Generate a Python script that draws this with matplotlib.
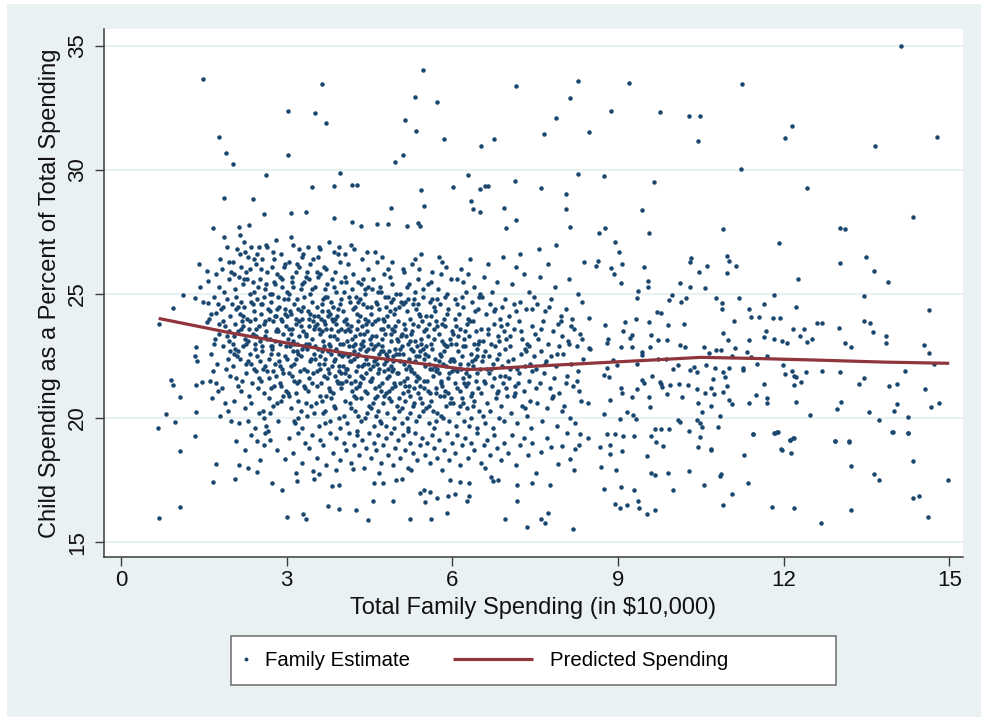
import matplotlib
matplotlib.use('Agg')
import matplotlib.pyplot as plt
from matplotlib.patches import Rectangle
from matplotlib.lines import Line2D
from matplotlib.legend_handler import HandlerLine2D

plt.rcParams['font.family'] = ['Liberation Sans', 'DejaVu Sans']

# ---------------- data ----------------
x_ticks = [0, 3, 6, 9, 12, 15]
y_ticks = [15, 20, 25, 30, 35]
x_label = "Total Family Spending (in $10,000)"
y_label = "Child Spending as a Percent of Total Spending"
legend_labels = ["Family Estimate", "Predicted Spending"]

pred_x = [0.68, 2.0, 3.2, 4.4, 5.6, 6.25, 6.6, 7.2, 7.8, 8.4, 9.6, 10.5, 11.4, 12.6, 13.8, 15.0]
pred_y = [24.02, 23.43, 22.95, 22.49, 22.15, 21.96, 21.98, 22.06, 22.13, 22.2, 22.34, 22.45, 22.41, 22.34, 22.26, 22.21]

fam_top = [(1.48,33.68),(1.78,31.32),(1.90,30.71),(2.03,30.24),(3.03,32.37),(3.03,30.60),(3.63,33.48),(3.52,32.30),(3.71,31.90),(5.47,34.02),(5.32,32.96),(5.73,32.73),(5.14,32.02),(5.34,31.56),(5.84,31.26),(5.10,30.59),(4.96,30.32),(7.16,33.39),(6.51,30.99),(6.76,31.26),(2.63,29.79),(3.97,29.90),(6.29,29.79),(7.14,29.57),(1.87,28.88),(2.39,28.85),(3.45,29.33),(3.86,29.37),(4.19,29.40),(4.28,29.38),(5.43,29.18),(6.01,29.30),(6.50,29.22),(6.59,29.34),(6.64,29.37),(6.33,28.77),(6.38,28.43),(6.50,28.32),(6.94,28.46),(7.15,28.00),(4.88,28.48),(5.49,28.55),(2.58,28.24),(3.08,28.28),(3.35,28.32),(3.85,28.05),(4.19,27.90),(4.34,27.73),(4.64,27.81),(4.84,27.82),(5.17,27.73),(5.37,27.88),(5.41,27.76),(1.66,27.66),(2.13,27.69),(2.32,27.78),(6.97,27.66),
           (14.12,35.01),(8.27,33.61),(9.20,33.51),(11.25,33.48),(8.14,32.92),(7.87,32.12),(7.66,31.45),(8.48,31.53),(8.88,32.37),(9.76,32.35),(10.28,32.19),(10.49,32.20),(10.45,31.18),(12.03,31.30),(12.15,31.79),(13.66,30.97),(14.78,31.33),(8.27,29.86),(8.74,29.77),(11.23,30.03),(7.61,29.27),(8.06,29.03),(8.06,28.45),(9.66,29.52),(9.43,28.41),(12.42,29.27),(14.34,28.09),(8.14,27.72),(8.77,27.66),(10.91,27.63),(13.03,27.67),(13.12,27.62)]

fam_bottom = [(0.68,15.98),(1.07,16.41),(1.07,18.68),(1.33,19.27),(1.67,17.43),(1.72,18.16),(2.07,17.53),(2.08,19.06),(2.14,18.09),(2.25,18.71),(2.29,18.00),(2.46,19.06),(2.46,17.81),(2.52,18.32),(2.59,18.90),(2.69,19.10),(2.73,17.39),(2.92,17.11),(3.00,16.02),(3.30,16.12),(3.34,15.92),(2.97,18.36),(3.18,17.46),(3.16,17.77),(3.75,16.46),(3.94,16.35),(3.82,17.27),(3.95,17.30),(4.25,16.28),(4.47,15.91),(4.58,17.37),(4.74,17.37),(4.57,16.67),(4.92,16.65),(5.24,15.92),(5.61,15.93),(5.51,16.60),(5.42,16.99),(5.49,17.10),(5.60,17.04),(5.72,16.79),(5.91,16.18),(5.92,16.85),(6.05,16.96),(6.26,16.65),(6.31,16.84),(6.95,15.94),(7.17,16.67),(7.36,15.62),(7.17,17.29),(5.95,17.50),(6.14,17.42),(6.30,17.38),(6.70,17.63),(6.73,17.47),(6.82,17.50),(4.98,17.49),(5.08,17.55),(3.58,17.75),(3.48,17.85),(3.49,17.55),(7.45,17.37),
              (8.19,15.52),(7.60,15.94),(7.68,15.79),(7.74,16.18),(7.77,17.29),(7.51,17.80),(8.20,17.92),(8.74,17.15),(8.94,16.53),(9.03,16.39),(9.17,16.48),(9.05,17.24),(9.29,17.12),(9.37,16.65),(9.39,16.38),(9.53,16.13),(9.67,16.31),(9.99,17.10),(9.60,17.80),(9.67,17.69),(9.90,17.80),(10.28,17.85),(10.56,17.29),(10.84,17.66),(10.86,17.74),(11.06,16.95),(10.90,16.48),(11.36,17.37),(11.79,16.41),(12.19,16.37),(12.67,15.76),(13.22,18.06),(13.23,16.31),(13.64,17.74),(13.72,17.50),(14.35,18.28),(14.35,16.77),(14.46,16.85),(14.62,16.01),(14.98,17.50),(12.93,19.07),(13.19,19.04),(13.99,19.45),(14.25,19.42),(11.29,18.50),(11.45,19.35),(11.84,19.40),(11.88,19.44),(11.97,18.71),(12.14,18.58),(12.12,19.12),(12.19,19.21),(10.45,18.82),(10.49,19.25),(10.68,18.73),(10.28,19.48),(9.53,18.47),(9.82,18.87),(9.68,19.04),(9.60,19.27),(9.29,19.27),(9.10,19.27),(9.07,18.68),(8.86,18.91),(8.85,18.55),(8.68,18.82),(8.70,18.02),(8.96,17.90),(8.80,19.35),(8.94,19.35),(8.22,18.75),(8.30,18.91),(8.45,19.18),(8.13,18.37),(7.92,18.17),(7.99,18.88),(7.79,18.82),(7.61,18.62),(7.71,19.18),(8.07,19.38),(8.32,19.35)]

fam_lowband = [(3.05,19.2),(3.12,18.6),(3.21,19.4),(3.27,18.2),(3.33,19.0),(3.41,18.8),(3.46,19.3),(3.55,18.4),(3.61,19.1),(3.66,18.9),(3.72,18.1),(3.78,19.4),(3.84,18.6),(3.89,19.2),(3.97,18.3),(4.03,19.0),(4.07,18.7),(4.12,19.4),(4.16,18.2),(4.22,18.9),(4.27,19.3),(4.31,18.5),(4.36,19.1),(4.40,18.0),(4.44,18.8),(4.49,19.4),(4.53,18.4),(4.58,19.0),(4.62,18.7),(4.66,19.3),(4.71,18.2),(4.75,18.9),(4.80,19.2),(4.84,18.5),(4.89,19.4),(4.93,18.1),(4.97,18.8),(5.02,19.1),(5.06,18.4),(5.11,19.3),(5.15,18.7),(5.19,18.0),(5.23,19.0),(5.28,18.6),(5.32,19.4),(5.36,18.3),(5.41,18.9),(5.45,19.2),(5.50,18.5),(5.54,19.0),(5.59,18.2),(5.63,19.3),(5.67,18.8),(5.72,18.4),(5.76,19.1),(5.81,17.9),(5.85,18.7),(5.90,19.4),(5.94,18.3),(5.99,19.0),(6.04,18.6),(6.09,19.3),(6.13,18.1),(6.18,18.9),(6.23,19.2),(6.28,18.4),(6.34,19.0),(6.39,18.7),(6.45,19.4),(6.51,18.2),(6.57,18.9),(6.62,19.1),(6.68,18.5),(6.75,19.3),(6.81,18.8),(6.88,18.3),(6.94,19.0),(7.01,18.6),(7.08,19.3),(7.15,18.1),(7.22,18.9),(7.30,19.2),(7.37,18.5),(7.44,19.0),(2.82,18.7),(2.60,19.4),(2.35,19.3),(3.90,17.9),(4.68,17.8),(5.25,17.9),(6.60,18.0),(4.20,17.95)]

fam_right = [(11.92,27.06),(10.98,26.55),(11.02,26.32),(11.14,26.12),(10.97,25.85),(10.62,26.12),(10.58,25.23),(12.27,25.59),(13.03,26.26),(13.50,26.48),(13.63,25.95),(13.89,25.48),(13.45,24.93),(14.64,24.34),(10.78,24.83),(10.88,24.64),(10.89,24.40),(11.19,24.85),(11.38,24.41),(11.41,24.09),(11.56,24.09),(11.65,24.61),(11.82,24.96),(11.80,24.03),(11.94,24.04),(12.23,24.50),(11.11,23.92),(10.91,23.42),(11.00,23.13),(11.64,23.27),(11.68,23.52),(11.38,23.13),(11.83,23.21),(11.97,23.09),(12.07,23.04),(12.17,23.58),(12.30,23.31),(12.37,23.58),(12.42,23.08),(12.52,23.21),(12.60,23.83),(12.70,23.83),(13.00,23.63),(13.12,23.01),(13.23,22.88),(13.45,23.90),(13.56,23.82),(13.62,23.48),(13.85,23.33),(13.85,23.04),(14.55,22.96),(14.64,22.63),(10.55,22.86),(10.65,22.63),(10.77,22.73),(10.87,22.73),(11.12,22.82),(11.34,22.66),(11.41,22.47),(11.70,22.50),(11.07,22.50),(10.59,22.15),(10.76,22.03),(11.02,22.03),(11.26,22.04),(11.27,21.96),(11.52,22.20),(11.99,22.15),(12.15,21.92),(12.02,21.76),(12.18,21.69),(12.23,21.65),(12.40,21.84),(12.32,21.46),(12.19,21.32),(12.70,21.91),(13.03,21.87),(10.90,21.85),(10.94,21.67),(10.72,21.57),(10.98,21.30),(10.58,21.02),(10.69,21.22),(10.74,20.97),(10.91,21.04),(11.64,21.37),(11.50,20.92),(11.02,20.75),(11.06,20.55),(11.38,20.60),(11.70,20.81),(11.70,20.60),(12.22,20.63),(10.68,20.50),(10.52,20.23),(10.85,20.07),(10.49,19.80),(10.53,19.64),(10.82,19.64),(12.48,20.13),(13.36,21.37),(13.46,21.63),(13.04,20.67),(12.97,20.36),(13.54,20.25),(13.73,19.91),(13.91,21.29),(14.05,21.37),(14.05,20.56),(14.00,20.29),(14.20,21.92),(14.26,20.05),(14.56,21.18),(14.67,20.46),(14.81,20.59),(13.97,19.46),(14.26,19.42),(11.44,19.35),(11.83,19.41),(11.89,19.45),(12.12,19.12),(12.17,19.19),(12.93,19.08),(13.19,19.06),(10.68,18.76),(11.96,18.76),(14.73,22.20)]

fam_mid = [(8.94,27.12),(9.01,26.69),(9.07,26.22),(8.92,25.82),(8.88,26.06),(8.61,26.12),(8.64,26.32),(9.05,25.46),(9.47,26.10),(9.55,25.52),(9.55,25.29),(9.37,25.13),(9.35,24.85),(9.56,27.46),(8.65,27.45),(10.13,25.46),(10.30,26.29),(10.32,26.45),(10.46,25.90),(10.30,25.29),(9.98,24.96),(9.92,24.75),(10.15,24.69),(10.24,24.85),(9.70,24.27),(9.78,24.25),(9.33,24.01),(9.56,23.87),(9.91,23.75),(10.19,23.78),(8.76,23.75),(8.48,24.03),(9.13,23.88),(9.09,23.51),(9.25,23.35),(9.22,23.24),(8.82,23.21),(8.80,23.01),(9.59,23.35),(9.73,23.15),(9.88,23.15),(10.13,22.93),(10.22,22.88),(8.47,22.83),(8.49,22.78),(9.26,22.85),(9.43,22.68),(9.43,22.54),(9.05,22.85),(9.58,22.88),(9.72,22.38),(9.87,22.38),(10.08,22.16),(10.37,22.07),(10.43,21.84),(8.91,22.34),(8.98,22.14),(8.80,22.04),(9.35,22.18),(9.43,21.53),(9.47,21.40),(9.62,21.71),(9.78,21.36),(9.76,21.47),(9.95,21.32),(10.10,21.37),(10.26,21.32),(10.31,21.94),(10.00,21.97),(8.74,21.73),(8.83,21.65),(9.05,21.20),(9.07,21.00),(9.25,20.86),(9.34,21.16),(9.56,20.86),(9.88,20.96),(9.80,21.26),(10.16,20.86),(10.45,20.60),(10.44,21.17),(8.86,20.73),(8.46,20.59),(8.75,20.15),(9.04,19.95),(9.17,20.24),(9.58,20.44),(9.28,20.12),(9.33,19.98),(10.09,19.92),(10.13,19.83),(10.44,19.92),(9.67,19.58),(9.78,19.56),(9.92,19.58)]

fam_left = [(0.68,23.78),(0.94,24.46),(1.13,24.95),(0.90,21.53),(0.94,21.33),(1.06,20.86),(0.81,20.16),(0.98,19.85),(0.67,19.60),(1.36,20.25),(1.36,21.33),(1.46,21.46),(1.61,21.49),(1.36,22.88),(1.33,22.50),(1.38,22.30),(1.41,26.21),(1.43,25.29),(1.55,25.94),(1.57,25.53),(1.33,24.83),(1.49,24.69),(1.58,24.65),(1.56,23.88),(1.63,24.20),(1.70,23.21),(1.78,23.80),(1.72,24.25),
            (1.62,22.6),(1.66,21.9),(1.68,24.9),(1.71,25.8),(1.74,22.2),(1.77,23.4),(1.79,26.4),(1.81,24.4),(1.83,21.2),(1.85,22.9),(1.86,25.1),(1.88,23.7),(1.89,20.6),(1.91,24.8),(1.92,26.9),(1.93,22.4),(1.95,23.1),(1.96,25.6),(1.97,21.7),(1.98,24.1),(1.99,19.9),(1.64,20.8),(1.69,23.0),(1.75,24.6),(1.82,26.0),(1.87,27.3),(1.94,20.3),(1.72,21.4),(1.78,25.3),(1.84,23.9),(1.90,22.0),(1.99,25.9),(1.60,24.0),(1.96,23.5),(1.80,20.1)]

fam_core_2 = [(2.01,24.6),(2.02,22.1),(2.03,26.3),(2.04,23.3),(2.05,20.7),(2.06,25.2),(2.07,23.8),(2.08,21.6),(2.09,24.9),(2.10,26.8),(2.11,22.7),(2.12,23.5),(2.13,25.7),(2.14,19.8),(2.15,24.2),(2.16,22.4),(2.17,26.1),(2.18,21.1),(2.19,23.9),(2.20,25.4),(2.21,22.9),(2.22,27.1),(2.23,24.5),(2.24,20.4),(2.25,23.2),(2.26,25.9),(2.27,21.8),(2.28,24.0),(2.29,22.3),(2.30,26.5),(2.31,23.6),(2.32,20.9),(2.33,25.0),(2.34,22.6),(2.35,24.7),(2.36,26.9),(2.37,21.4),(2.38,23.4),(2.39,25.5),(2.40,22.0),(2.41,24.3),(2.42,19.6),(2.43,23.0),(2.44,26.2),(2.45,21.9),(2.46,24.8),(2.47,22.5),(2.48,25.3),(2.49,23.7),(2.50,20.2),
              (2.03,23.0),(2.08,24.4),(2.12,21.3),(2.17,23.6),(2.21,24.1),(2.26,22.2),(2.30,23.1),(2.34,26.0),(2.38,24.6),(2.43,22.8),(2.47,26.6),(2.05,25.8),(2.15,27.4),(2.25,26.7),(2.35,20.6),(2.45,23.3),(2.10,22.5),(2.20,23.7),(2.40,25.1),(2.48,21.2),(2.33,23.9),(2.28,25.6),(2.18,24.7),(2.07,22.8),(2.42,24.0),
              (2.51,23.1),(2.52,25.6),(2.53,21.5),(2.54,24.2),(2.55,22.7),(2.56,26.4),(2.57,20.3),(2.58,23.8),(2.59,24.9),(2.60,22.1),(2.61,25.2),(2.62,19.7),(2.63,23.5),(2.64,21.9),(2.65,26.9),(2.66,24.4),(2.67,22.4),(2.68,20.8),(2.69,25.0),(2.70,23.2),(2.71,21.2),(2.72,24.7),(2.73,26.1),(2.74,22.9),(2.75,23.9),(2.76,20.5),(2.77,25.5),(2.78,22.2),(2.79,24.1),(2.80,27.2),(2.81,21.7),(2.82,23.6),(2.83,25.8),(2.84,22.6),(2.85,19.9),(2.86,24.5),(2.87,23.0),(2.88,21.4),(2.89,26.6),(2.90,24.0),(2.91,22.0),(2.92,25.3),(2.93,20.9),(2.94,23.4),(2.95,24.8),(2.96,22.5),(2.97,26.2),(2.98,21.1),(2.99,23.7),(3.00,25.1),
              (2.52,22.3),(2.55,24.6),(2.58,20.0),(2.61,23.3),(2.64,25.9),(2.67,21.6),(2.70,24.3),(2.73,22.8),(2.76,26.7),(2.79,23.1),(2.82,20.6),(2.85,24.9),(2.88,22.1),(2.91,25.6),(2.94,21.8),(2.97,24.2),(2.54,26.0),(2.60,23.9),(2.66,19.5),(2.72,22.9),(2.78,25.4),(2.84,23.5),(2.90,21.3),(2.96,24.4),(2.57,22.0),(2.63,27.0),(2.69,20.2),(2.75,21.9),(2.81,24.1),(2.87,25.7)]

fam_core_3 = [(3.01,22.4),(3.02,24.8),(3.03,21.0),(3.04,23.6),(3.05,26.3),(3.06,22.9),(3.07,20.4),(3.08,24.2),(3.09,25.5),(3.10,21.7),(3.11,23.1),(3.12,27.0),(3.13,22.2),(3.14,24.6),(3.15,19.8),(3.16,23.8),(3.17,25.9),(3.18,21.4),(3.19,22.7),(3.20,24.4),(3.21,20.7),(3.22,26.1),(3.23,23.3),(3.24,21.9),(3.25,25.2),(3.26,22.5),(3.27,24.0),(3.28,19.6),(3.29,23.5),(3.30,26.6),(3.31,22.0),(3.32,24.9),(3.33,21.2),(3.34,23.0),(3.35,25.7),(3.36,20.1),(3.37,22.8),(3.38,24.3),(3.39,26.9),(3.40,21.6),(3.41,23.7),(3.42,25.0),(3.43,22.3),(3.44,20.5),(3.45,24.7),(3.46,23.2),(3.47,26.4),(3.48,21.8),(3.49,22.6),(3.50,24.1),
              (3.02,23.2),(3.05,20.9),(3.08,22.1),(3.11,25.3),(3.14,21.5),(3.17,24.0),(3.20,22.6),(3.23,26.8),(3.26,20.3),(3.29,24.5),(3.32,22.9),(3.35,23.4),(3.38,21.1),(3.41,25.6),(3.44,22.4),(3.47,23.9),(3.04,25.0),(3.10,23.6),(3.16,21.0),(3.22,23.9),(3.28,25.4),(3.34,20.6),(3.40,23.0),(3.46,25.2),(3.07,27.3),(3.13,19.9),(3.19,26.2),(3.25,23.7),(3.31,21.3),(3.37,25.9),(3.43,24.2),(3.49,20.2),(3.06,24.3),(3.12,22.7),(3.18,23.0),
              (3.51,22.9),(3.52,25.3),(3.53,20.6),(3.54,23.8),(3.55,21.9),(3.56,26.5),(3.57,24.1),(3.58,22.2),(3.59,19.7),(3.60,23.4),(3.61,25.8),(3.62,21.4),(3.63,24.6),(3.64,22.7),(3.65,20.2),(3.66,23.1),(3.67,26.1),(3.68,21.7),(3.69,24.9),(3.70,22.4),(3.71,23.6),(3.72,20.9),(3.73,25.4),(3.74,22.0),(3.75,24.3),(3.76,27.1),(3.77,21.2),(3.78,23.3),(3.79,19.9),(3.80,24.7),(3.81,22.6),(3.82,25.6),(3.83,21.0),(3.84,23.9),(3.85,22.3),(3.86,26.7),(3.87,20.4),(3.88,24.0),(3.89,22.8),(3.90,25.1),(3.91,21.5),(3.92,23.5),(3.93,24.4),(3.94,20.0),(3.95,22.1),(3.96,26.3),(3.97,23.0),(3.98,21.8),(3.99,24.8),(4.00,22.5),
              (3.52,23.7),(3.55,24.5),(3.58,26.9),(3.61,22.0),(3.64,20.7),(3.67,23.9),(3.70,25.2),(3.73,21.6),(3.76,23.0),(3.79,24.2),(3.82,22.1),(3.85,20.5),(3.88,25.9),(3.91,23.2),(3.94,21.9),(3.97,24.6),(3.54,21.3),(3.60,22.5),(3.66,24.8),(3.72,26.0),(3.78,21.1),(3.84,24.5),(3.90,23.8),(3.96,19.6),(3.57,25.7),(3.63,23.5),(3.69,20.3),(3.75,22.7),(3.81,23.6),(3.87,22.4),(3.93,26.6),(3.99,21.2),(3.56,22.8),(3.62,24.0),(3.68,22.9),(3.74,24.1),(3.80,20.8),(3.86,23.3),(3.92,21.4),(3.98,25.5)]

fam_core_4 = [(4.01,21.4),(4.02,24.3),(4.03,22.6),(4.04,20.1),(4.05,23.5),(4.06,25.7),(4.07,22.0),(4.08,24.0),(4.09,19.8),(4.10,23.1),(4.11,26.2),(4.12,21.7),(4.13,22.9),(4.14,24.7),(4.15,20.6),(4.16,23.7),(4.17,22.3),(4.18,25.2),(4.19,21.1),(4.20,24.4),(4.21,22.7),(4.22,26.8),(4.23,20.3),(4.24,23.3),(4.25,21.9),(4.26,24.9),(4.27,22.5),(4.28,19.5),(4.29,23.9),(4.30,25.5),(4.31,21.3),(4.32,22.8),(4.33,24.1),(4.34,20.8),(4.35,23.0),(4.36,26.4),(4.37,22.1),(4.38,24.6),(4.39,21.6),(4.40,23.4),(4.41,20.0),(4.42,25.0),(4.43,22.4),(4.44,23.8),(4.45,21.0),(4.46,24.5),(4.47,22.2),(4.48,26.0),(4.49,20.5),(4.50,23.2),
              (4.02,22.1),(4.05,26.6),(4.08,21.5),(4.11,23.6),(4.14,22.3),(4.17,20.4),(4.20,25.8),(4.23,23.0),(4.26,21.2),(4.29,22.6),(4.32,24.8),(4.35,19.9),(4.38,22.9),(4.41,24.0),(4.44,21.8),(4.47,25.3),(4.03,25.1),(4.09,23.8),(4.15,22.6),(4.21,20.9),(4.27,24.2),(4.33,21.4),(4.39,25.6),(4.45,23.5),(4.06,20.7),(4.12,24.9),(4.18,23.2),(4.24,21.5),(4.30,22.1),(4.36,23.7),(4.42,21.1),(4.48,22.8),(4.04,23.9),(4.10,22.0),(4.16,27.0),(4.22,22.4),(4.28,23.6),(4.34,25.4),(4.40,22.2),(4.46,20.2),
              (4.51,22.0),(4.52,24.2),(4.53,20.4),(4.54,23.3),(4.55,21.6),(4.56,25.6),(4.57,22.8),(4.58,19.7),(4.59,23.9),(4.60,21.2),(4.61,24.7),(4.62,22.4),(4.63,26.3),(4.64,20.9),(4.65,23.0),(4.66,21.8),(4.67,24.4),(4.68,22.6),(4.69,19.9),(4.70,23.6),(4.71,25.1),(4.72,21.4),(4.73,22.9),(4.74,24.0),(4.75,20.6),(4.76,22.2),(4.77,25.8),(4.78,23.4),(4.79,21.0),(4.80,24.5),(4.81,22.5),(4.82,20.2),(4.83,23.7),(4.84,26.0),(4.85,21.7),(4.86,22.7),(4.87,24.3),(4.88,20.7),(4.89,23.1),(4.90,25.4),(4.91,21.9),(4.92,22.3),(4.93,24.8),(4.94,19.6),(4.95,23.5),(4.96,21.3),(4.97,22.8),(4.98,25.0),(4.99,20.5),(5.00,23.2),
              (4.52,21.5),(4.55,23.8),(4.58,22.3),(4.61,20.1),(4.64,24.6),(4.67,22.0),(4.70,21.1),(4.73,26.5),(4.76,23.9),(4.79,22.6),(4.82,24.1),(4.85,20.8),(4.88,22.1),(4.91,23.6),(4.94,21.4),(4.97,24.4),(4.54,25.2),(4.60,22.9),(4.66,20.3),(4.72,23.2),(4.78,24.9),(4.84,22.4),(4.90,21.2),(4.96,23.7),(4.57,20.6),(4.63,22.2),(4.69,25.3),(4.75,22.7),(4.81,21.6),(4.87,25.7),(4.93,22.5),(4.99,21.8),(4.53,23.0),(4.59,26.7),(4.65,24.0),(4.71,19.8),(4.77,21.9),(4.83,22.0),(4.89,24.7),(4.95,20.0)]

fam_core_5 = [(5.01,21.8),(5.02,23.9),(5.03,20.3),(5.04,22.6),(5.05,25.0),(5.06,21.4),(5.07,23.3),(5.08,19.8),(5.09,22.9),(5.10,24.6),(5.11,21.0),(5.12,22.2),(5.13,25.9),(5.14,20.7),(5.15,23.6),(5.16,22.0),(5.17,24.3),(5.18,21.6),(5.19,19.5),(5.20,23.0),(5.21,25.4),(5.22,22.4),(5.23,20.9),(5.24,24.0),(5.25,21.9),(5.26,23.4),(5.27,26.2),(5.28,20.5),(5.29,22.7),(5.30,24.8),(5.31,21.2),(5.32,23.1),(5.33,22.3),(5.34,19.9),(5.35,24.4),(5.36,21.7),(5.37,23.7),(5.38,25.6),(5.39,20.1),(5.40,22.5),(5.41,24.1),(5.42,21.3),(5.43,23.2),(5.44,26.6),(5.45,20.6),(5.46,22.8),(5.47,24.9),(5.48,21.5),(5.49,23.5),(5.50,22.1),
              (5.03,24.5),(5.06,22.8),(5.09,20.4),(5.12,23.8),(5.15,21.3),(5.18,25.3),(5.21,22.1),(5.24,20.2),(5.27,23.5),(5.30,21.8),(5.33,25.1),(5.36,22.9),(5.39,24.2),(5.42,20.8),(5.45,23.9),(5.48,22.4),(5.05,22.3),(5.11,26.0),(5.17,20.0),(5.23,23.1),(5.29,24.6),(5.35,21.5),(5.41,22.7),(5.47,20.3),(5.08,23.4),(5.14,24.7),(5.20,21.1),(5.26,22.0),(5.32,26.4),(5.38,21.0),
              (5.51,22.6),(5.52,20.4),(5.53,24.1),(5.54,21.5),(5.55,23.3),(5.56,25.4),(5.57,19.8),(5.58,22.2),(5.59,24.7),(5.60,21.0),(5.61,23.0),(5.62,20.7),(5.63,22.8),(5.64,25.9),(5.65,21.7),(5.66,23.6),(5.67,19.6),(5.68,22.4),(5.69,24.3),(5.70,21.2),(5.71,23.9),(5.72,20.2),(5.73,22.0),(5.74,25.2),(5.75,21.8),(5.76,23.4),(5.77,20.9),(5.78,24.6),(5.79,22.5),(5.80,21.4),(5.81,26.3),(5.82,23.1),(5.83,20.0),(5.84,22.7),(5.85,24.0),(5.86,21.1),(5.87,23.7),(5.88,22.1),(5.89,20.5),(5.90,25.0),(5.91,22.9),(5.92,21.6),(5.93,24.4),(5.94,19.9),(5.95,23.2),(5.96,22.3),(5.97,25.6),(5.98,20.8),(5.99,23.5),(6.00,21.9),
              (5.53,22.9),(5.57,23.8),(5.61,25.5),(5.65,20.3),(5.69,22.1),(5.73,23.7),(5.77,22.6),(5.81,21.3),(5.85,23.0),(5.89,26.1),(5.93,21.0),(5.97,22.4),(5.55,21.1),(5.63,24.8),(5.71,21.9),(5.79,20.1),(5.87,24.9),(5.95,20.6),(5.59,22.0),(5.67,24.5),(5.75,26.5),(5.83,22.2)]

fam_core_6 = [(6.01,23.4),(6.02,20.6),(6.03,22.3),(6.04,24.8),(6.05,21.4),(6.06,19.7),(6.07,23.0),(6.08,25.6),(6.09,21.9),(6.10,22.7),(6.11,20.2),(6.12,24.2),(6.13,21.1),(6.14,23.6),(6.15,22.0),(6.16,26.0),(6.17,20.8),(6.18,22.5),(6.19,24.5),(6.20,21.6),(6.21,23.2),(6.22,19.9),(6.23,22.9),(6.24,25.1),(6.25,21.3),(6.26,23.8),(6.27,20.4),(6.28,22.2),(6.29,24.0),(6.30,21.7),(6.31,23.3),(6.32,26.4),(6.33,20.0),(6.34,22.6),(6.35,24.7),(6.36,21.0),(6.37,22.1),(6.38,23.9),(6.39,20.7),(6.40,25.3),(6.41,22.4),(6.42,21.5),(6.43,23.5),(6.44,19.6),(6.45,22.8),(6.46,24.4),(6.47,21.2),(6.48,23.1),(6.49,20.3),(6.50,22.0),
              (6.04,22.0),(6.09,24.6),(6.14,20.5),(6.19,22.9),(6.24,21.8),(6.29,25.8),(6.34,20.9),(6.39,23.0),(6.44,22.5),(6.49,24.9),(6.06,23.7),(6.21,21.4),
              (6.51,23.6),(6.52,21.0),(6.53,24.9),(6.54,22.3),(6.55,20.1),(6.56,23.1),(6.57,25.7),(6.58,21.5),(6.59,22.7),(6.60,19.8),(6.61,24.2),(6.62,22.0),(6.63,20.6),(6.64,23.4),(6.65,26.2),(6.66,21.8),(6.67,22.5),(6.68,24.6),(6.69,20.3),(6.70,23.0),(6.71,21.3),(6.72,25.1),(6.73,22.2),(6.74,19.6),(6.75,23.8),(6.76,21.6),(6.77,22.9),(6.78,24.4),(6.79,20.8),(6.80,22.4),(6.81,25.5),(6.82,21.1),(6.83,23.3),(6.84,20.0),(6.85,22.6),(6.86,24.0),(6.87,21.7),(6.88,23.7),(6.89,20.5),(6.90,22.1),(6.91,26.5),(6.92,21.4),(6.93,23.5),(6.94,19.9),(6.95,22.8),(6.96,24.8),(6.97,21.2),(6.98,23.2),(6.99,20.9),(7.00,22.3)]

fam_core_7 = [(7.02,24.1),(7.03,21.6),(7.05,22.9),(7.06,20.2),(7.08,25.4),(7.09,22.4),(7.11,20.9),(7.12,23.6),(7.14,21.3),(7.15,26.1),(7.17,22.0),(7.18,19.8),(7.20,23.9),(7.21,21.8),(7.23,24.7),(7.24,22.6),(7.26,20.5),(7.27,23.2),(7.29,25.8),(7.30,21.1),(7.32,22.8),(7.33,24.4),(7.35,20.1),(7.36,23.0),(7.38,21.5),(7.39,25.1),(7.41,22.2),(7.42,19.6),(7.44,23.7),(7.45,21.9),(7.47,24.9),(7.48,22.5),(7.04,23.3),(7.13,21.0),(7.22,26.6),(7.31,22.1),(7.40,20.7),(7.49,23.4),(7.16,24.3),(7.34,22.7),
              (7.51,22.0),(7.53,24.6),(7.54,20.6),(7.56,23.2),(7.58,21.4),(7.59,25.7),(7.61,22.7),(7.63,19.9),(7.64,23.9),(7.66,21.8),(7.68,24.3),(7.69,22.3),(7.71,20.4),(7.73,26.2),(7.74,23.0),(7.76,21.2),(7.78,22.5),(7.79,24.8),(7.81,20.8),(7.83,23.5),(7.84,21.6),(7.86,25.3),(7.88,22.1),(7.89,19.7),(7.91,23.8),(7.93,21.0),(7.94,22.9),(7.96,24.1),(7.98,20.3),(7.99,23.3),(7.57,26.8),(7.87,27.0),
              (8.01,22.6),(8.03,20.5),(8.05,24.4),(8.07,21.7),(8.09,23.1),(8.11,25.6),(8.13,20.0),(8.15,22.2),(8.17,24.0),(8.19,21.3),(8.21,23.6),(8.23,19.8),(8.25,22.9),(8.27,25.0),(8.29,21.1),(8.31,23.4),(8.33,20.7),(8.35,24.7),(8.37,22.4),(8.39,26.3),(8.12,23.0),(8.28,21.9)]

fam_core_extra = [(2.04,22.6),(2.11,24.5),(2.19,21.5),(2.23,25.6),(2.27,23.0),(2.36,22.2),(2.41,26.4),(2.44,23.6),(2.49,21.6),(2.53,24.6),(2.56,22.9),(2.59,21.0),(2.62,25.4),(2.65,23.2),(2.68,24.0),(2.71,22.6),(2.74,25.0),(2.77,21.3),(2.80,23.5),(2.83,24.4),(2.86,22.3),(2.89,20.7),(2.92,23.9),(2.95,26.1),(2.98,22.9),
                  (3.01,24.1),(3.04,21.8),(3.07,23.4),(3.10,25.7),(3.13,23.0),(3.16,22.4),(3.19,24.8),(3.22,21.5),(3.25,24.3),(3.28,22.8),(3.31,25.5),(3.34,23.3),(3.37,21.9),(3.40,24.0),(3.43,26.2),(3.46,21.4),(3.49,23.6),(3.52,22.4),(3.55,25.9),(3.58,23.6),(3.61,20.9),(3.64,24.3),(3.67,22.2),(3.70,23.8),(3.73,24.9),(3.76,21.8),(3.79,22.9),(3.82,24.0),(3.85,25.3),(3.88,21.7),(3.91,24.1),(3.94,22.6),(3.97,21.4),(3.99,23.6),
                  (4.02,23.0),(4.05,21.8),(4.08,25.5),(4.11,22.5),(4.14,23.5),(4.17,21.4),(4.20,22.9),(4.23,24.5),(4.26,20.8),(4.29,24.7),(4.32,23.4),(4.35,21.7),(4.38,23.1),(4.41,25.2),(4.44,22.7),(4.47,23.9),(4.50,21.5),(4.53,24.5),(4.56,22.1),(4.59,20.8),(4.62,23.3),(4.65,25.1),(4.68,21.3),(4.71,22.7),(4.74,23.6),(4.77,20.9),(4.80,22.3),(4.83,24.9),(4.86,21.1),(4.89,23.4),(4.92,22.0),(4.95,24.2),(4.98,22.6),
                  (5.01,23.1),(5.04,20.8),(5.07,24.7),(5.10,22.6),(5.13,21.5),(5.16,23.3),(5.19,24.8),(5.22,21.3),(5.25,22.8),(5.28,23.8),(5.31,20.6),(5.34,22.5),(5.37,24.6),(5.40,21.6),(5.43,23.0),(5.46,25.2),(5.49,21.2),(5.52,23.6),(5.55,22.5),(5.58,20.5),(5.61,24.1),(5.64,22.0),(5.67,23.2),(5.70,21.0),(5.73,24.8),(5.76,22.3),(5.79,21.5),(5.82,23.8),(5.85,20.9),(5.88,22.9),(5.91,24.2),(5.94,21.8),(5.97,23.0),
                  (6.02,22.4),(6.05,24.0),(6.08,21.2),(6.11,23.3),(6.14,22.2),(6.17,24.9),(6.20,20.6),(6.23,23.5),(6.26,22.0),(6.29,21.4),(6.32,23.9),(6.35,22.3),(6.38,20.5),(6.41,24.3),(6.44,21.8),(6.47,23.0),(6.50,25.0),(6.55,22.5),(6.60,21.4),(6.65,23.6),(6.70,22.0),(6.75,24.3),(6.80,21.0),(6.85,23.1),(6.90,24.5),(6.95,21.7),(6.99,23.8),
                  (7.05,22.0),(7.12,24.6),(7.19,21.4),(7.25,23.5),(7.32,20.4),(7.38,22.9),(7.45,24.4),(7.52,21.2),(7.60,23.6),(7.67,22.2),(7.75,24.5),(7.82,20.9),(7.90,22.6),(7.97,23.9),(8.05,21.4),(8.15,23.7),(8.25,21.5),(8.35,23.2),
                  (1.85,24.5),(1.92,23.3),(1.98,22.7),(1.76,21.1),(1.95,26.3),(2.16,26.6),(2.30,19.9),(2.50,26.9),(2.77,26.4),(3.27,26.5),(3.60,26.8),(3.95,26.9),(4.45,26.7),(4.90,26.3),(5.40,26.0),(5.80,25.8),(6.20,25.5),(3.20,20.0),(3.70,19.8),(4.30,20.1),(4.80,19.7),(5.20,19.6),(5.70,19.9),(6.30,19.7)]

# ---------------- styling ----------------
BG = '#eaf1f3'
GRID = '#eaf1f3'
NAVY = '#1a476f'
MAROON = '#90353b'
AXC = '#3c3c3c'
W, H = 981, 717

groups = [fam_top, fam_bottom, fam_lowband, fam_right, fam_mid, fam_left,
          fam_core_2, fam_core_3, fam_core_4, fam_core_5, fam_core_6, fam_core_7, fam_core_extra]
fam_x = [p[0] for g in groups for p in g]
fam_y = [p[1] for g in groups for p in g]

fig = plt.figure(figsize=(W / 100, H / 100), dpi=100, facecolor='white')
fig.patches.append(Rectangle((7 / W, 0), 1, 1 - 4 / H, transform=fig.transFigure,
                             facecolor=BG, edgecolor='none', zorder=-10))

ax = fig.add_axes([104 / W, 1 - 557 / H, (963 - 104) / W, (557 - 29) / H])
ax.set_facecolor('white')
ax.set_xlim(-0.31, 15.25)
ax.set_ylim(14.4, 35.69)

for yv in y_ticks:
    ax.axhline(yv, color=GRID, lw=1.6, zorder=0)

ax.scatter(fam_x, fam_y, s=10.5, c=NAVY, linewidths=0, zorder=2)
ax.plot(pred_x, pred_y, color=MAROON, lw=2.3, zorder=3, solid_capstyle='butt')

for s in ['top', 'right']:
    ax.spines[s].set_visible(False)
for s in ['left', 'bottom']:
    ax.spines[s].set_color(AXC)
    ax.spines[s].set_linewidth(1.1)

ax.set_xticks(x_ticks)
ax.set_yticks(y_ticks)
ax.set_yticklabels([str(v) for v in y_ticks], rotation=90, va='center')
ax.tick_params(axis='both', direction='out', length=6.5, width=1.0, color=AXC,
               labelsize=16, labelcolor='#111111')
ax.tick_params(axis='x', pad=3)
ax.tick_params(axis='y', pad=5)

ax.set_xlabel(x_label, fontsize=17, color='#111111', va='center')
ax.xaxis.set_label_coords(0.5, -(608 - 557) / (557 - 29))
ax.set_ylabel(y_label, fontsize=17, color='#111111', va='center', ha='center')
ax.yaxis.set_label_coords(-(104 - 50) / (963 - 104), 0.5)

# legend box
fig.add_artist(Rectangle((231 / W, 1 - 685 / H), 605 / W, 49 / H, transform=fig.transFigure,
                         facecolor='white', edgecolor='#808080', lw=1.3, zorder=1))


class LongLine(HandlerLine2D):
    def create_artists(self, legend, orig_handle, xdescent, ydescent, width, height, fontsize, trans):
        y = height / 2.0 - ydescent
        ln = Line2D([-xdescent - 51.0, -xdescent + 6.6], [y, y], color=orig_handle.get_color(),
                    lw=orig_handle.get_linewidth(), solid_capstyle='butt')
        ln.set_transform(trans)
        return [ln]


h1 = Line2D([], [], ls='none', marker='o', ms=2.8, mew=0, color=NAVY)
h2 = Line2D([], [], color=MAROON, lw=2.3)
fig.legend([h1, h2], legend_labels, loc='center left',
           bbox_to_anchor=(231 / W, 1 - 660.5 / H), ncol=2, frameon=False,
           fontsize=14.7, handlelength=0.64, handletextpad=0.61, columnspacing=5.6,
           borderpad=0.4, borderaxespad=0, handler_map={h2: LongLine()})

fig.savefig('out.png', dpi=100, facecolor=fig.get_facecolor())
